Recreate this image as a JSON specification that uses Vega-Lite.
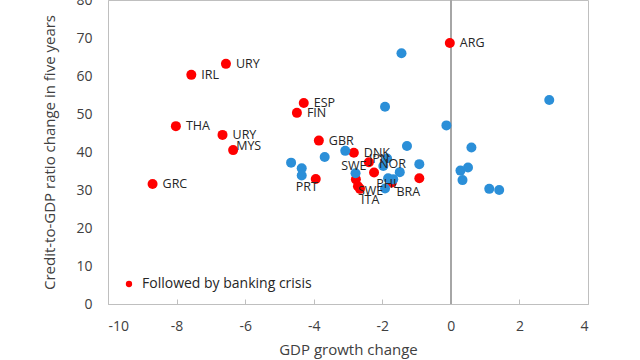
{
  "$schema": "https://vega.github.io/schema/vega-lite/v6.json",
  "width": 480,
  "height": 304,
  "autosize": {"type": "none"},
  "padding": {"left": 108, "top": 0, "right": 52, "bottom": 56},
  "background": "white",
  "config": {
    "font": "Open Sans",
    "view": {"stroke": "#BFBFBF", "strokeWidth": 1},
    "axis": {
      "grid": false,
      "domainColor": "#BFBFBF",
      "tickColor": "#BFBFBF",
      "labelFontSize": 14,
      "labelColor": "#404040",
      "titleFontSize": 15,
      "titleColor": "#404040",
      "titleFontWeight": "normal",
      "labelExpr": "toString(datum.value)"
    }
  },
  "datasets": {
    "pts": [
      {"x": -0.03, "y": 68.7, "label": "ARG", "group": "Followed by banking crisis"},
      {"x": -6.56, "y": 63.2, "label": "URY", "group": "Followed by banking crisis"},
      {"x": -7.57, "y": 60.3, "label": "IRL", "group": "Followed by banking crisis"},
      {"x": -8.02, "y": 46.8, "label": "THA", "group": "Followed by banking crisis"},
      {"x": -6.66, "y": 44.5, "label": "URY", "group": "Followed by banking crisis"},
      {"x": -6.35, "y": 40.5, "label": "MYS", "group": "Followed by banking crisis"},
      {"x": -8.7, "y": 31.6, "label": "GRC", "group": "Followed by banking crisis"},
      {"x": -4.29, "y": 52.9, "label": "ESP", "group": "Followed by banking crisis"},
      {"x": -4.49, "y": 50.3, "label": "FIN", "group": "Followed by banking crisis"},
      {"x": -3.85, "y": 43.0, "label": "GBR", "group": "Followed by banking crisis"},
      {"x": -2.83, "y": 39.8, "label": "DNK", "group": "Followed by banking crisis"},
      {"x": -2.39, "y": 37.3, "label": "JPN", "group": "Followed by banking crisis"},
      {"x": -2.24, "y": 34.6, "label": "NOR", "group": "Followed by banking crisis"},
      {"x": -2.77, "y": 32.8, "label": "SWE", "group": "Followed by banking crisis"},
      {"x": -2.71, "y": 31.0, "label": "SWE", "group": "Followed by banking crisis"},
      {"x": -2.65, "y": 30.3, "label": "ITA", "group": "Followed by banking crisis"},
      {"x": -1.72, "y": 32.0, "label": "PHL", "group": "Followed by banking crisis"},
      {"x": -0.92, "y": 33.1, "label": "BRA", "group": "Followed by banking crisis"},
      {"x": -3.94, "y": 32.9, "label": "PRT", "group": "Followed by banking crisis"},
      {"x": -4.66, "y": 37.2, "label": "", "group": "Other"},
      {"x": -4.35, "y": 35.7, "label": "", "group": "Other"},
      {"x": -4.35, "y": 33.8, "label": "", "group": "Other"},
      {"x": -3.68, "y": 38.7, "label": "", "group": "Other"},
      {"x": -3.08, "y": 40.3, "label": "", "group": "Other"},
      {"x": -2.78, "y": 34.4, "label": "", "group": "Other"},
      {"x": -1.86, "y": 38.3, "label": "", "group": "Other"},
      {"x": -1.97, "y": 36.3, "label": "", "group": "Other"},
      {"x": -1.28, "y": 41.6, "label": "", "group": "Other"},
      {"x": -1.49, "y": 34.7, "label": "", "group": "Other"},
      {"x": -0.92, "y": 36.8, "label": "", "group": "Other"},
      {"x": -1.83, "y": 33.1, "label": "", "group": "Other"},
      {"x": -1.68, "y": 32.8, "label": "", "group": "Other"},
      {"x": -1.92, "y": 30.4, "label": "", "group": "Other"},
      {"x": -0.13, "y": 47.0, "label": "", "group": "Other"},
      {"x": 0.6, "y": 41.2, "label": "", "group": "Other"},
      {"x": 0.28, "y": 35.1, "label": "", "group": "Other"},
      {"x": 0.5, "y": 35.9, "label": "", "group": "Other"},
      {"x": 0.34, "y": 32.6, "label": "", "group": "Other"},
      {"x": 1.12, "y": 30.3, "label": "", "group": "Other"},
      {"x": 1.41, "y": 30.0, "label": "", "group": "Other"},
      {"x": 2.87, "y": 53.7, "label": "", "group": "Other"},
      {"x": -1.44, "y": 66.0, "label": "", "group": "Other"},
      {"x": -1.92, "y": 51.9, "label": "", "group": "Other"}
    ]
  },
  "data": {"name": "pts"},
  "encoding": {
    "x": {
      "field": "x", "type": "quantitative",
      "scale": {"domain": [-10, 4], "nice": false},
      "axis": {"values": [-10, -8, -6, -4, -2, 0, 2, 4], "title": "GDP growth change", "tickSize": -5, "labelPadding": 20, "titlePadding": 9}
    },
    "y": {
      "field": "y", "type": "quantitative",
      "scale": {"domain": [0, 80], "nice": false},
      "axis": {"values": [0, 10, 20, 30, 40, 50, 60, 70, 80], "title": "Credit-to-GDP ratio change in five years", "ticks": false, "labelPadding": 16, "titlePadding": 18}
    }
  },
  "layer": [
    {
      "mark": {"type": "rule", "color": "#A6A6A6", "strokeWidth": 1.5},
      "encoding": {"x": {"datum": 0}, "y": {"value": 0}, "y2": {"value": 304}}
    },
    {
      "transform": [{"filter": "datum.group == 'Followed by banking crisis'"}],
      "mark": {"type": "point", "filled": true, "opacity": 1, "size": 100},
      "encoding": {
        "color": {
          "field": "group", "type": "nominal",
          "scale": {"domain": ["Followed by banking crisis", "Other"], "range": ["#FF0000", "#2B8FD8"]},
          "legend": {
            "values": ["Followed by banking crisis"], "title": null, "orient": "none",
            "legendX": 14, "legendY": 277, "symbolSize": 40, "symbolType": "circle",
            "labelFontSize": 14, "labelColor": "#262626", "padding": 0, "labelOffset": 6, "labelLimit": 400
          }
        }
      }
    },
    {
      "transform": [{"filter": "datum.group == 'Other'"}],
      "mark": {"type": "point", "filled": true, "opacity": 1, "size": 100},
      "encoding": {"color": {"field": "group", "type": "nominal"}}
    },
    {
      "transform": [{"filter": {"field": "label", "oneOf": ["ARG", "URY", "IRL", "THA", "GRC", "ESP", "FIN", "GBR", "DNK"]}}],
      "mark": {"type": "text", "align": "left", "baseline": "middle", "dx": 10, "fontSize": 12.5, "color": "#262626"},
      "encoding": {"text": {"field": "label"}}
    },
    {
      "transform": [{"filter": "datum.label == 'MYS'"}],
      "mark": {"type": "text", "align": "left", "baseline": "middle", "dx": 3, "dy": -4, "fontSize": 12.5, "color": "#262626"},
      "encoding": {"text": {"field": "label"}}
    },
    {
      "transform": [{"filter": "datum.label == 'JPN'"}],
      "mark": {"type": "text", "align": "left", "baseline": "middle", "dx": 0, "dy": -3, "fontSize": 12.5, "color": "#262626"},
      "encoding": {"text": {"field": "label"}}
    },
    {
      "transform": [{"filter": "datum.label == 'NOR'"}],
      "mark": {"type": "text", "align": "left", "baseline": "middle", "dx": 5, "dy": -9, "fontSize": 12.5, "color": "#262626"},
      "encoding": {"text": {"field": "label"}}
    },
    {
      "transform": [{"filter": "datum.label == 'SWE' && datum.y > 32"}],
      "mark": {"type": "text", "align": "center", "baseline": "middle", "dx": -2, "dy": -13, "fontSize": 12.5, "color": "#262626"},
      "encoding": {"text": {"field": "label"}}
    },
    {
      "transform": [{"filter": "datum.label == 'SWE' && datum.y < 32"}],
      "mark": {"type": "text", "align": "left", "baseline": "middle", "dx": 0, "dy": 5, "fontSize": 12.5, "color": "#262626"},
      "encoding": {"text": {"field": "label"}}
    },
    {
      "transform": [{"filter": "datum.label == 'ITA'"}],
      "mark": {"type": "text", "align": "left", "baseline": "middle", "dx": 1, "dy": 11, "fontSize": 12.5, "color": "#262626"},
      "encoding": {"text": {"field": "label"}}
    },
    {
      "transform": [{"filter": "datum.label == 'PHL'"}],
      "mark": {"type": "text", "align": "center", "baseline": "middle", "dx": -4, "dy": 2, "fontSize": 12.5, "color": "#262626"},
      "encoding": {"text": {"field": "label"}}
    },
    {
      "transform": [{"filter": "datum.label == 'BRA'"}],
      "mark": {"type": "text", "align": "center", "baseline": "middle", "dx": -11, "dy": 14, "fontSize": 12.5, "color": "#262626"},
      "encoding": {"text": {"field": "label"}}
    },
    {
      "transform": [{"filter": "datum.label == 'PRT'"}],
      "mark": {"type": "text", "align": "center", "baseline": "middle", "dx": -9, "dy": 8, "fontSize": 12.5, "color": "#262626"},
      "encoding": {"text": {"field": "label"}}
    }
  ]
}
